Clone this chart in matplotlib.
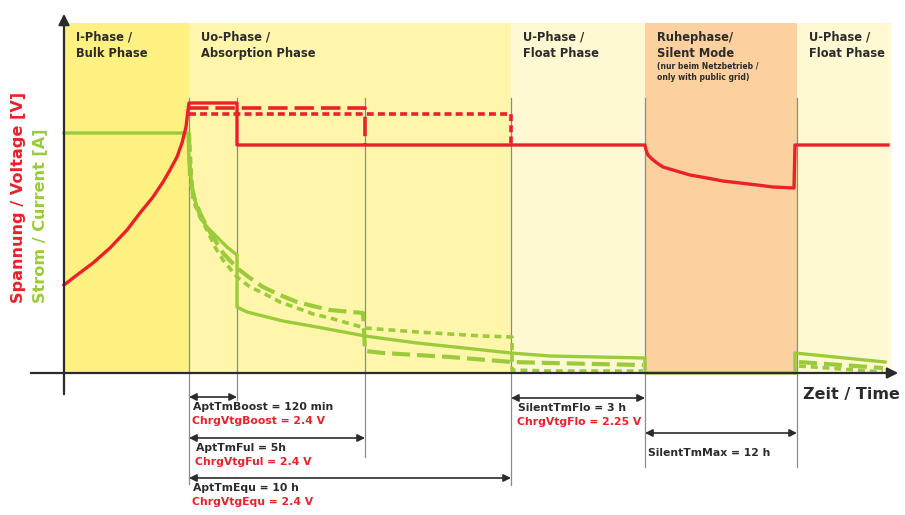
import matplotlib
matplotlib.use("Agg")
import matplotlib.pyplot as plt
from matplotlib.patches import Rectangle

plt.rcParams["font.family"] = ["DejaVu Sans"]
plt.rcParams["lines.scale_dashes"] = False

# colours
RED = "#E8212B"
GREEN = "#9BCB3B"
INK = "#2B2B2B"

# phases (time units along the x axis, origin at the y axis)
phase_start = [0, 125, 447, 581, 733]
phase_end = [125, 447, 581, 733, 827]
phase_color = ["#FEF182", "#FFF6AB", "#FFF9D3", "#FCD09F", "#FFF9D3"]
phase_title = ["I-Phase /\nBulk Phase", "Uo-Phase /\nAbsorption Phase", "U-Phase /\nFloat Phase",
               "Ruhephase/\nSilent Mode", "U-Phase /\nFloat Phase"]
phase_top = 350

# marker lines (time, lower end)
marker_t = [125, 173, 301, 447, 581, 733]
marker_low = [-111, -27, -84, -112, -94, -94]
marker_high = 275

# voltage, solid (bulk -> boost -> float -> silent -> float)
volt_t = [0, 13, 29, 46, 63, 76, 89, 99, 106, 113, 118, 122, 124, 125, 173, 173,
          581, 582, 584, 588, 593, 599, 609, 626, 643, 659, 676, 693, 709, 730, 731, 824]
volt_v = [88, 98, 110, 125, 143, 160, 176, 191, 203, 216, 230, 246, 263, 270, 270, 228,
          228, 223, 218, 214, 210, 206, 203, 198, 195, 192, 190, 188, 186, 185, 228, 228]
# voltage, full charge (long dashes) and equalisation (short dashes)
volt_ful_t = [125, 301, 301]
volt_ful_v = [265, 265, 228]
volt_equ_t = [125, 447, 447]
volt_equ_v = [259, 259, 228]

# current, solid (boost)
cur_t = [0, 124, 125, 127, 129, 133, 136, 143, 149, 156, 163, 173, 173, 183, 219, 253,
         301, 353, 419, 447, 486, 581, 581, 731]
cur_a = [240, 240, 213, 196, 180, 166, 156, 146, 140, 133, 126, 118, 66, 61, 52, 46,
         37, 30, 23, 20, 17, 15, 0, 0]
cur2_t = [731, 731, 821]
cur2_a = [0, 20, 11]
# current, full charge
cur_ful_t = [125, 126, 131, 136, 143, 149, 159, 173, 186, 199, 216, 233, 249, 266, 299,
             301, 319, 386, 448, 486, 579]
cur_ful_a = [240, 193, 173, 160, 146, 136, 120, 105, 95, 86, 78, 71, 67, 63, 60,
             22, 20, 16, 11, 10, 8]
cur_ful2_t = [735, 819]
cur_ful2_a = [11, 5]
# current, equalisation
cur_equ_t = [125, 129, 136, 143, 151, 159, 173, 186, 199, 216, 233, 249, 266, 301, 353,
             419, 448, 448, 486, 579]
cur_equ_a = [240, 173, 156, 143, 126, 113, 96, 86, 80, 71, 65, 59, 55, 45, 41,
             37, 36, 3, 2, 2]
cur_equ2_t = [735, 819]
cur_equ2_a = [7, 1]

# time spans below the axis
span_start = [125, 125, 125, 447, 581]
span_end = [173, 301, 447, 581, 733]
span_level = [-24, -65, -105, -25, -60]
span_text = ["AptTmBoost = 120 min", "AptTmFul = 5h", "AptTmEqu = 10 h", "SilentTmFlo = 3 h", "SilentTmMax = 12 h"]
span_volt = ["ChrgVtgBoost = 2.4 V", "ChrgVtgFul = 2.4 V", "ChrgVtgEqu = 2.4 V", "ChrgVtgFlo = 2.25 V", ""]

fig = plt.figure(figsize=(9.05, 5.15), dpi=100)
ax = fig.add_axes([0, 0, 1, 1])
ax.set_xlim(-64, 841)
ax.set_ylim(-142, 373)
ax.axis("off")

for s, e, c in zip(phase_start, phase_end, phase_color):
    ax.add_patch(Rectangle((s, 0), e - s, phase_top, facecolor=c, edgecolor="none", zorder=0))

for t, lo in zip(marker_t, marker_low):
    ax.plot([t, t], [lo, marker_high], color="#8A8A8A", lw=0.9, zorder=1)

# currents
ax.plot(cur_t, cur_a, color=GREEN, lw=2.4, zorder=3)
ax.plot(cur2_t, cur2_a, color=GREEN, lw=2.4, zorder=3)
ax.plot(cur_ful_t, cur_ful_a, color=GREEN, lw=3.0, dashes=(13, 5), zorder=3)
ax.plot(cur_ful2_t, cur_ful2_a, color=GREEN, lw=3.0, dashes=(13, 5), zorder=3)
ax.plot(cur_equ_t, cur_equ_a, color=GREEN, lw=2.6, dashes=(5, 3.5), zorder=3)
ax.plot(cur_equ2_t, cur_equ2_a, color=GREEN, lw=2.6, dashes=(5, 3.5), zorder=3)

# voltages
ax.plot(volt_t, volt_v, color=RED, lw=2.4, zorder=4)
ax.plot(volt_ful_t, volt_ful_v, color=RED, lw=2.6, dashes=(14, 5), zorder=4)
ax.plot(volt_equ_t, volt_equ_v, color=RED, lw=2.6, dashes=(5, 3), zorder=4)

# axes with arrows
ax.annotate("", xy=(0, 362), xytext=(0, -24),
            arrowprops=dict(arrowstyle="-|>", color=INK, lw=1.6, mutation_scale=16), zorder=5)
ax.annotate("", xy=(837, 0), xytext=(-36, 0),
            arrowprops=dict(arrowstyle="-|>", color=INK, lw=1.6, mutation_scale=16), zorder=5)

# phase titles
for s, title in zip(phase_start, phase_title):
    ax.text(s + 12, 342, title, fontsize=8.3, fontweight="bold", color=INK,
            va="top", ha="left", linespacing=1.3)
ax.text(593, 311, "(nur beim Netzbetrieb /\nonly with public grid)", fontsize=5.5,
        fontweight="bold", color=INK, va="top", ha="left", linespacing=1.3)

# axis labels
ax.text(-46, 70, "Spannung / Voltage [V]", rotation=90, fontsize=11.6, fontweight="bold",
        color=RED, ha="center", va="bottom")
ax.text(-24, 70, "Strom / Current [A]", rotation=90, fontsize=11.6, fontweight="bold",
        color=GREEN, ha="center", va="bottom")
ax.text(739, -22, "Zeit / Time", fontsize=11.5, fontweight="bold", color=INK, ha="left", va="center")

# spans
text_dx = [4, 7, 4, 7, 3]
for s, e, lv, txt, vt, dx in zip(span_start, span_end, span_level, span_text, span_volt, text_dx):
    ax.annotate("", xy=(e, lv), xytext=(s, lv),
                arrowprops=dict(arrowstyle="<|-|>", color=INK, lw=1.2, mutation_scale=11,
                                shrinkA=0, shrinkB=0))
    gap = -20 if s == 581 else -10
    ax.text(s + dx, lv + gap, txt, fontsize=7.8, fontweight="bold", color=INK, va="center", ha="left")
    if vt:
        ax.text(s + dx - 1, lv + gap - 14, vt, fontsize=7.8, fontweight="bold", color=RED,
                va="center", ha="left")

fig.savefig("out.png", dpi=100)
